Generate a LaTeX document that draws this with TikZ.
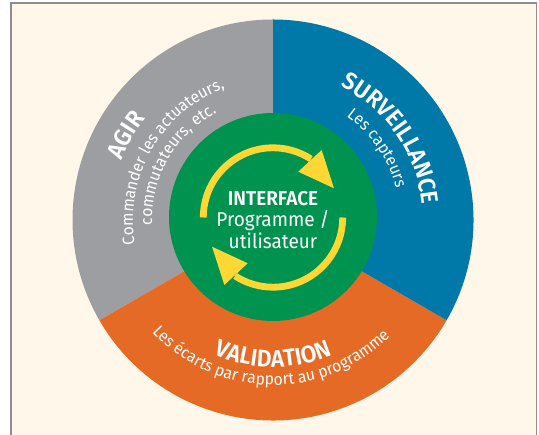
\documentclass[tikz,border=0pt]{standalone}
\usepackage{fontspec}
\setmainfont[FakeStretch=0.95, BoldFont={Fira Sans SemiBold}]{Fira Sans}
\usetikzlibrary{decorations.text}
\definecolor{cream}{HTML}{FFF8EA}
\definecolor{framegray}{HTML}{8E8E8E}
\definecolor{segGray}{HTML}{9D9EA2}
\definecolor{segBlue}{HTML}{0079A8}
\definecolor{segOrange}{HTML}{E56A25}
\definecolor{ctrGreen}{HTML}{00934F}
\definecolor{arrYellow}{HTML}{FDD835}
\newcommand{\ttlfont}{\fontsize{24}{28}\selectfont\bfseries}
\newcommand{\subfont}{\fontsize{16.5}{20}\selectfont}
\tikzset{
  x=1pt, y=1pt,
  titletext/.style={decorate, decoration={text along path, text align=center, text color=white, text={|\ttlfont|#1}}},
  subtext/.style={decorate, decoration={text along path, text align=center, text color=white, text={|\subfont|#1}}},
  arcline/.style={draw=arrYellow, line width=6.8pt, line cap=butt},
  arrhead/.style={fill=arrYellow},
  centertext/.style={text=white, align=center, font=\fontsize{20}{21.5}\selectfont, inner sep=0pt}
}
\begin{document}
\begin{tikzpicture}
\useasboundingbox (0,0) rectangle (539,435);
% frame
\fill[cream] (11,-5) rectangle (536.5,432);
\draw[framegray, line width=1.3pt] (11,-5) -- (11,432) -- (536.5,432) -- (536.5,-5);
% main disc
\coordinate (C) at (273,215);
\fill[segGray] (C) -- ([shift={(90:200.5)}]C) arc[start angle=90, end angle=210, radius=200.5] -- cycle;
\fill[segOrange] (C) -- ([shift={(210:200.5)}]C) arc[start angle=210, end angle=330, radius=200.5] -- cycle;
\fill[segBlue] (C) -- ([shift={(-30:200.5)}]C) arc[start angle=-30, end angle=90, radius=200.5] -- cycle;
% green centre
\coordinate (G) at (273,218);
\fill[ctrGreen] (G) circle[radius=104];
% curved texts
\path[titletext={AGIR}] ([shift={(200:163)}]C) arc[start angle=200, end angle=100, radius=163];
\path[subtext={Commander les actuateurs,}] ([shift={(210:140)}]C) arc[start angle=210, end angle=90, radius=140];
\path[subtext={commutateurs, etc.}] ([shift={(210:121)}]C) arc[start angle=210, end angle=90, radius=121];
\path[titletext={SURVEILLANCE}] ([shift={(90:150)}]C) arc[start angle=90, end angle=-21, radius=150];
\path[subtext={Les capteurs}] ([shift={(90:127)}]C) arc[start angle=90, end angle=-21, radius=127];
\path[titletext={VALIDATION}] ([shift={(200:147)}]C) arc[start angle=200, end angle=340, radius=147];
\path[subtext={Les écarts par rapport au programme}] ([shift={(200:165)}]C) arc[start angle=200, end angle=338, radius=165];
% cycle arrows
\coordinate (A) at (273,217.5);
\draw[arcline] ([shift={(180:69.7)}]A) arc[start angle=180, end angle=57, radius=69.7];
\fill[arrhead, shift={(A)}] (25.6:67.6) -- (54.2:83.2) -- (61.1:52.3) -- cycle;
\draw[arcline] ([shift={(0:69.7)}]A) arc[start angle=360, end angle=237, radius=69.7];
\fill[arrhead, shift={(A)}, rotate=180] (25.6:67.6) -- (54.2:83.2) -- (61.1:52.3) -- cycle;
% centre label
\node[centertext] (iface) at (273,215) {{\bfseries INTERFACE}\\Programme /\\utilisateur};
\end{tikzpicture}
\end{document}
